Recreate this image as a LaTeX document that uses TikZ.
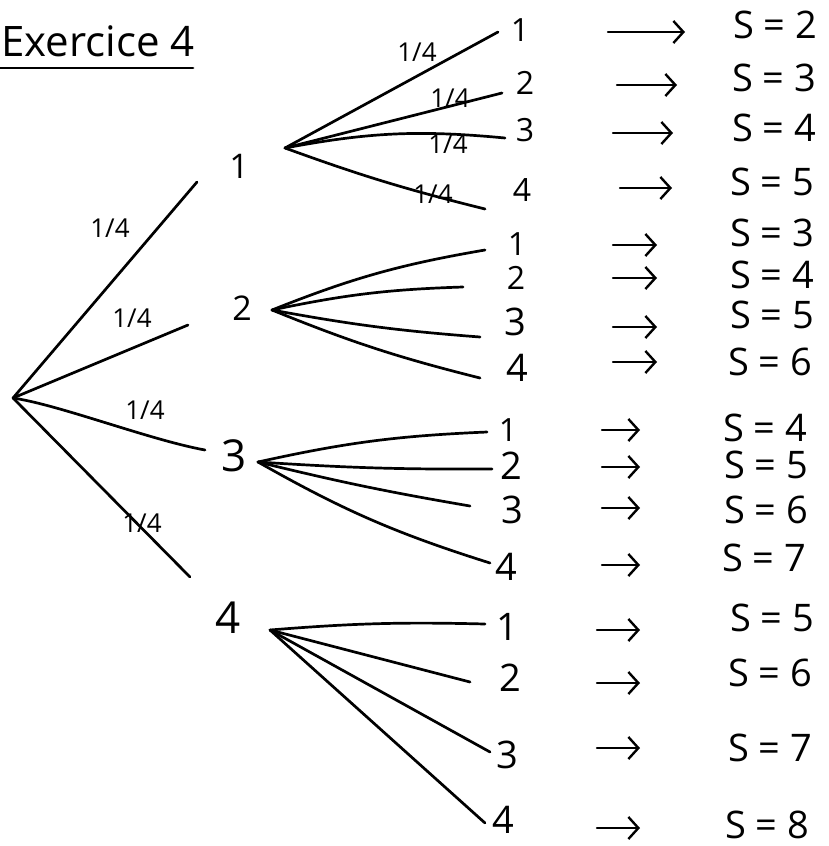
\documentclass[tikz,border=0pt]{standalone}
\usepackage{fontspec}
\setmainfont{Open Sans}
\usetikzlibrary{arrows.meta}
\begin{document}
\begin{tikzpicture}[x=1pt,y=-1pt,
  branch/.style={line width=2.7pt, line cap=round},
  arr/.style={line width=2.4pt, line cap=round, -{Straight Barb[length=10pt,width=22pt,line width=2.4pt]}},
  lvl/.style={font=\fontsize{34}{38}\selectfont, inner sep=0pt},
  lvlbig/.style={font=\fontsize{44}{48}\selectfont, inner sep=0pt},
  leafsm/.style={font=\fontsize{32}{36}\selectfont, inner sep=0pt},
  leaf/.style={font=\fontsize{38}{42}\selectfont, inner sep=0pt},
  res/.style={font=\fontsize{38}{42}\selectfont, inner sep=0pt, anchor=west},
  prob/.style={font=\fontsize{26}{30}\selectfont, inner sep=0pt},
  ttl/.style={font=\fontsize{42}{46}\selectfont, inner sep=0pt, anchor=base west},
]
\useasboundingbox (0,0) rectangle (828,846);

% title
\node[ttl] (title) at (1,56) {Exercice 4};
\coordinate (ulA) at (0,68);
\coordinate (ulB) at (193,68);
\draw[branch] (ulA) -- (ulB);

% root and first level
\coordinate (r) at (13,398);
\coordinate (b1) at (197,182);
\coordinate (b2) at (188,325);
\coordinate (b3) at (205,450);
\coordinate (b4) at (190,577);
\draw[branch] (r) -- (b1);
\draw[branch] (r) -- (b2);
\draw[branch] (r) .. controls (60,405) and (150,440) .. (b3);
\draw[branch] (r) -- (b4);
\node[prob] (p1) at (110,228) {1/4};
\node[prob] (p2) at (132,318) {1/4};
\node[prob] (p3) at (145,410) {1/4};
\node[prob] (p4) at (142,523) {1/4};

\node[lvl] (n1) at (239,166) {1};
\node[lvl] (n2) at (242,308) {2};
\node[lvlbig] (n3) at (234,456) {3};
\node[lvlbig] (n4) at (228,618) {4};

% fan starts
\coordinate (f1) at (285,148);
\coordinate (f2) at (272,310);
\coordinate (f3) at (258,462);
\coordinate (f4) at (270,630);

% fan 1
\coordinate (e11) at (498,32);
\coordinate (e12) at (502,93);
\coordinate (e13) at (505,138);
\coordinate (e14) at (485,209);
\draw[branch] (f1) -- (e11);
\draw[branch] (f1) -- (e12);
\draw[branch] (f1) to[bend left=8] (e13);
\draw[branch] (f1) to[bend right=3] (e14);
\node[prob] (q1) at (417,52) {1/4};
\node[prob] (q2) at (450,98) {1/4};
\node[prob] (q3) at (448,144) {1/4};
\node[prob] (q4) at (433,194) {1/4};

% fan 2
\coordinate (e21) at (485,250);
\coordinate (e22) at (463,287);
\coordinate (e23) at (480,337);
\coordinate (e24) at (480,378);
\draw[branch] (f2) to[bend left=6] (e21);
\draw[branch] (f2) to[bend left=5] (e22);
\draw[branch] (f2) to[bend right=3] (e23);
\draw[branch] (f2) to[bend right=4] (e24);

% fan 3
\coordinate (e31) at (487,432);
\coordinate (e32) at (492,469);
\coordinate (e33) at (470,506);
\coordinate (e34) at (490,563);
\draw[branch] (f3) to[bend left=5] (e31);
\draw[branch] (f3) to[bend right=2] (e32);
\draw[branch] (f3) to[bend right=2] (e33);
\draw[branch] (f3) to[bend right=6] (e34);

% fan 4
\coordinate (e41) at (485,624);
\coordinate (e42) at (470,682);
\coordinate (e43) at (490,752);
\coordinate (e44) at (485,823);
\draw[branch] (f4) to[bend left=3] (e41);
\draw[branch] (f4) -- (e42);
\draw[branch] (f4) -- (e43);
\draw[branch] (f4) -- (e44);

% leaves
\node[leafsm] (l11) at (520,30) {1};
\node[leafsm] (l12) at (525,83) {2};
\node[leafsm] (l13) at (525,130) {3};
\node[leafsm] (l14) at (522,190) {4};
\node[leafsm] (l21) at (517,244) {1};
\node[leafsm] (l22) at (516,278) {2};
\node[leaf] (l23) at (515,322) {3};
\node[leaf] (l24) at (517,368) {4};
\node[leafsm] (l31) at (508,430) {1};
\node[leaf] (l32) at (511,466) {2};
\node[leaf] (l33) at (512,510) {3};
\node[leaf] (l34) at (506,567) {4};
\node[leaf] (l41) at (507,627) {1};
\node[leaf] (l42) at (510,678) {2};
\node[leaf] (l43) at (507,755) {3};
\node[leaf] (l44) at (503,820) {4};

% arrows
\foreach \n/\y/\xs/\xe in {11/32/608/685, 12/85/617/677, 13/133/613/673, 14/188/620/672,
  21/245/613/657, 22/278/613/657, 23/327/613/657, 24/362/613/657,
  31/430/602/640, 32/467/602/640, 33/508/602/640, 34/565/602/640,
  41/630/597/640, 42/683/597/640, 43/748/597/640, 44/828/597/640}{
  \coordinate (as\n) at (\xs,\y);
  \coordinate (ae\n) at (\xe,\y);
  \draw[arr] (as\n) -- (ae\n);
}

% results
\foreach \n/\y/\x/\s in {11/25/733/2, 12/78/732/3, 13/128/732/4, 14/182/730/5,
  21/233/730/3, 22/275/730/4, 23/315/730/5, 24/362/728/6,
  31/428/723/4, 32/465/724/5, 33/510/724/6, 34/558/722/7,
  41/618/730/5, 42/673/728/6, 43/748/728/7, 44/825/725/8}{
  \node[res] (s\n) at (\x,\y) {S = \s};
}
\end{tikzpicture}
\end{document}
